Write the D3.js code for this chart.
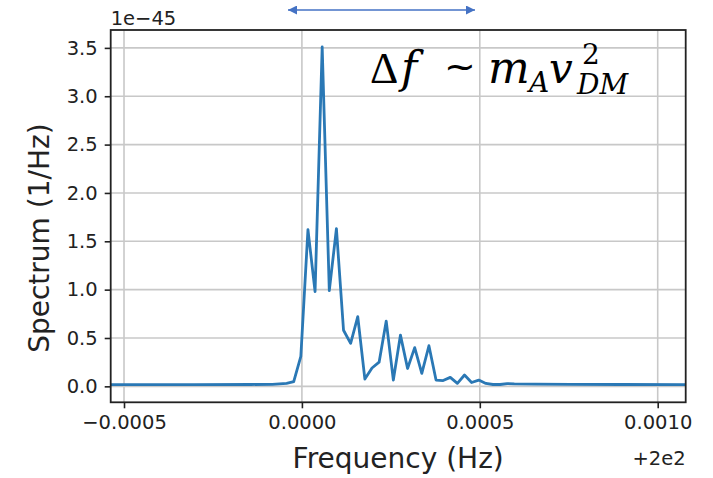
<!DOCTYPE html>
<html>
<head>
<meta charset="utf-8">
<script src="https://cdn.jsdelivr.net/npm/d3@7"></script>
<style>
  html, body { margin: 0; padding: 0; background: #ffffff; }
  svg { display: block; }
</style>
</head>
<body>
<script>
// Frequency offsets (Hz, relative to 200 Hz) and spectrum values (units of 1e-45 1/Hz)
const freqOffsets = [-0.000543, -0.000303, -0.000143, -0.000083, -0.000063, -0.000043, -0.000023,
  -0.000003, 0.000017, 0.000037, 0.000057, 0.000077, 0.000097, 0.000117, 0.000137, 0.000157,
  0.000177, 0.000197, 0.000217, 0.000237, 0.000257, 0.000277, 0.000297, 0.000317, 0.000337,
  0.000357, 0.000377, 0.000397, 0.000417, 0.000437, 0.000457, 0.000477, 0.000497, 0.000517,
  0.000537, 0.000557, 0.000577, 0.000597, 0.000657, 0.000757, 0.000897, 0.001097];
const spectrum = [0.018, 0.018, 0.019, 0.021, 0.025, 0.03, 0.048,
  0.31, 1.62, 0.98, 3.51, 0.99, 1.63, 0.58, 0.445, 0.72,
  0.075, 0.19, 0.25, 0.675, 0.065, 0.53, 0.185, 0.40, 0.135,
  0.42, 0.065, 0.06, 0.093, 0.031, 0.117, 0.04, 0.065, 0.03,
  0.019, 0.019, 0.029, 0.026, 0.022, 0.02, 0.019, 0.018];

const xTicks = [-0.0005, 0.0, 0.0005, 0.0010];
const xTickLabels = ["\u22120.0005", "0.0000", "0.0005", "0.0010"];
const yTicks = [0.0, 0.5, 1.0, 1.5, 2.0, 2.5, 3.0, 3.5];
const yTickLabels = ["0.0", "0.5", "1.0", "1.5", "2.0", "2.5", "3.0", "3.5"];
const xDomain = [-0.0005374, 0.0010787];
const yDomain = [-0.165, 3.685];

const W = 713, H = 478;
const m = { left: 110.7, right: 685.7, top: 30, bottom: 402.3 };

const svg = d3.select("body").append("svg").attr("width", W).attr("height", H);
svg.append("rect").attr("width", W).attr("height", H).attr("fill", "#fff");

const x = d3.scaleLinear().domain(xDomain).range([m.left, m.right]);
const y = d3.scaleLinear().domain(yDomain).range([m.bottom, m.top]);

const font = "'DejaVu Sans', sans-serif";

// grid
const grid = svg.append("g");
grid.selectAll("line.vx").data(xTicks).join("line")
  .attr("x1", d => x(d)).attr("x2", d => x(d))
  .attr("y1", m.top).attr("y2", m.bottom)
  .attr("stroke", "#c8c8c8").attr("stroke-width", 1.6);
grid.selectAll("line.hy").data(yTicks).join("line")
  .attr("x1", m.left).attr("x2", m.right)
  .attr("y1", d => y(d)).attr("y2", d => y(d))
  .attr("stroke", "#c8c8c8").attr("stroke-width", 1.6);

// clip
svg.append("clipPath").attr("id", "clip").append("rect")
  .attr("x", m.left).attr("y", m.top).attr("width", m.right - m.left).attr("height", m.bottom - m.top);

const pts = freqOffsets.map((f, i) => [f, spectrum[i]]);
svg.append("path").datum(pts)
  .attr("clip-path", "url(#clip)")
  .attr("fill", "none").attr("stroke", "#2a78b5").attr("stroke-width", 2.8)
  .attr("stroke-linejoin", "round")
  .attr("d", d3.line().x(d => x(d[0])).y(d => y(d[1])));

// axes
const xAxis = d3.axisBottom(x).tickValues(xTicks).tickFormat((d, i) => xTickLabels[i])
  .tickSize(6).tickSizeOuter(0).tickPadding(7);
const gx = svg.append("g").attr("transform", `translate(0,${m.bottom})`).call(xAxis);
const yAxis = d3.axisLeft(y).tickValues(yTicks).tickFormat((d, i) => yTickLabels[i])
  .tickSize(6).tickSizeOuter(0).tickPadding(7);
const gy = svg.append("g").attr("transform", `translate(${m.left},0)`).call(yAxis);
[gx, gy].forEach(g => {
  g.select(".domain").remove();
  g.selectAll(".tick line").attr("stroke", "#222").attr("stroke-width", 1.6);
  g.selectAll(".tick text").attr("fill", "#222").style("font-family", font).style("font-size", "19.5px");
});

// frame
svg.append("rect").attr("x", m.left).attr("y", m.top)
  .attr("width", m.right - m.left).attr("height", m.bottom - m.top)
  .attr("fill", "none").attr("stroke", "#222").attr("stroke-width", 1.8);

// labels
svg.append("text").attr("x", (m.left + m.right) / 2 + 0).attr("y", 468)
  .attr("text-anchor", "middle").style("font-family", font).style("font-size", "28px")
  .attr("fill", "#222").text("Frequency (Hz)");
svg.append("text").attr("transform", `translate(49,${(m.top + m.bottom) / 2 + 22}) rotate(-90)`)
  .attr("text-anchor", "middle").style("font-family", font).style("font-size", "28px")
  .attr("fill", "#222").text("Spectrum (1/Hz)");
svg.append("text").attr("x", m.left).attr("y", 25)
  .style("font-family", font).style("font-size", "19.5px").attr("fill", "#222").text("1e\u221245");
svg.append("text").attr("x", m.right).attr("y", 465).attr("text-anchor", "end")
  .style("font-family", font).style("font-size", "19.5px").attr("fill", "#222").text("+2e2");

// arrow annotation
const defs = svg.append("defs");
["s", "e"].forEach(k => {
  defs.append("marker").attr("id", "arr" + k).attr("viewBox", "0 0 10 10")
    .attr("refX", k === "e" ? 10 : 0).attr("refY", 5)
    .attr("markerWidth", 11).attr("markerHeight", 9).attr("markerUnits", "userSpaceOnUse")
    .attr("orient", "auto")
    .append("path").attr("d", k === "e" ? "M0,0 L10,5 L0,10 Z" : "M10,0 L0,5 L10,10 Z")
    .attr("fill", "#4472c4");
});
svg.append("line").attr("x1", 288).attr("x2", 475).attr("y1", 10).attr("y2", 10)
  .attr("stroke", "#4472c4").attr("stroke-width", 1.5)
  .attr("marker-start", "url(#arrs)").attr("marker-end", "url(#arre)");

// formula (one text element with positioned pieces)
const serif = "'DejaVu Serif', serif";
const pieces = [
  { t: "\u0394", x: 370, y: 83, s: 44, it: false, f: "'Liberation Serif', serif" },
  { t: "f", x: 401, y: 83, s: 44, it: true, f: serif },
  { t: "~", x: 444, y: 79, s: 38, it: false, f: "'DejaVu Sans', sans-serif" },
  { t: "m", x: 488, y: 83, s: 44, it: true, f: serif },
  { t: "A", x: 529, y: 92, s: 28, it: true, f: serif },
  { t: "v", x: 549, y: 83, s: 42, it: true, f: serif },
  { t: "2", x: 582, y: 64, s: 28, it: false, f: serif },
  { t: "DM", x: 577, y: 94, s: 28, it: true, f: serif }
];
const ft = svg.append("text").attr("fill", "#000");
ft.selectAll("tspan").data(pieces).join("tspan")
  .attr("x", d => d.x).attr("y", d => d.y)
  .style("font-family", d => d.f).style("font-size", d => d.s + "px")
  .style("font-style", d => d.it ? "italic" : "normal")
  .text(d => d.t);
</script>
</body>
</html>
